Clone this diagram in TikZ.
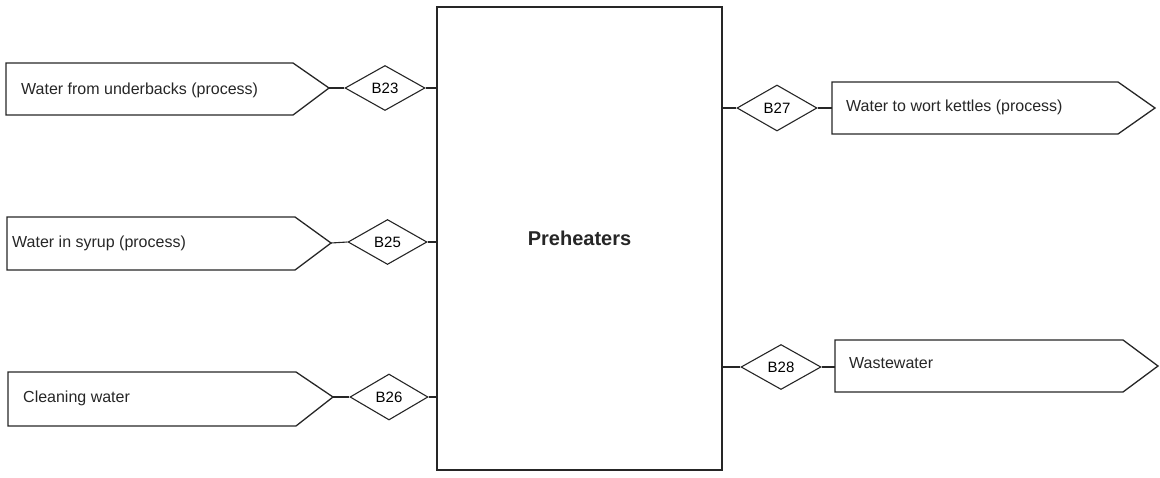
\documentclass[tikz,border=0pt]{standalone}
\usepackage{fontspec}
\setmainfont{Liberation Sans}
\usetikzlibrary{shapes.geometric}
\begin{document}
\begin{tikzpicture}[x=1pt,y=-1pt,
  outline/.style={draw=black!85,line width=1.3pt,line join=miter},
  conn/.style={draw=black!85,line width=1.1pt},
  diam/.style={shape=diamond,draw=black!85,line width=1.1pt,inner sep=0pt,
    minimum width=80pt,minimum height=45pt,font=\fontsize{15}{17}\selectfont},
  lbl/.style={anchor=base west,inner sep=0pt,font=\fontsize{16}{18}\selectfont,text=black!85},
  mainbox/.style={draw=black!85,line width=1.3pt,minimum width=285pt,minimum height=463pt,
    inner sep=0pt,font=\bfseries\fontsize{20}{22}\selectfont,text=black!85}]
\useasboundingbox (0,0) rectangle (1160,477);
% main block
\node[mainbox] (pre) at (579.5,238.5) {\raisebox{-5pt}{Preheaters}};
% left streams
\draw[outline] (6,63) -- (293,63) -- (329,88) coordinate (t1) -- (293,115) -- (6,115) -- cycle;
\draw[outline] (7,217) -- (295,217) -- (331,243) coordinate (t2) -- (295,270) -- (7,270) -- cycle;
\draw[outline] (8,372) -- (296,372) -- (333,397) coordinate (t3) -- (296,426) -- (8,426) -- cycle;
% right streams
\draw[outline] (832,82) coordinate (s4) -- (1118,82) -- (1155,108) -- (1118,134) -- (832,134) -- cycle;
\draw[outline] (835,340) coordinate (s5) -- (1123,340) -- (1158,366) -- (1123,392) -- (835,392) -- cycle;
\coordinate (e4) at (832,108);
\coordinate (e5) at (835,367);
% labels
\node[lbl] (l1) at (21,94) {Water from underbacks (process)};
\node[lbl] (l2) at (12,247) {Water in syrup (process)};
\node[lbl] (l3) at (23,402) {Cleaning water};
\node[lbl] (l4) at (846,111) {Water to wort kettles (process)};
\node[lbl] (l5) at (849,368) {Wastewater};
% diamonds
\node[diam] (b23) at (385,88) {B23};
\node[diam,minimum width=79pt] (b25) at (387.5,242) {B25};
\node[diam,minimum width=78pt,minimum height=46pt] (b26) at (389,397) {B26};
\node[diam,minimum height=46pt] (b27) at (777,108) {B27};
\node[diam] (b28) at (781,367) {B28};
% connectors
\draw[conn] (t1) -- (b23.west);
\draw[conn] (b23.east) -- (b23.east -| pre.west);
\draw[conn] (t2) -- (b25.west);
\draw[conn] (b25.east) -- (b25.east -| pre.west);
\draw[conn] (t3) -- (b26.west);
\draw[conn] (b26.east) -- (b26.east -| pre.west);
\draw[conn] (b27.west -| pre.east) -- (b27.west);
\draw[conn] (b27.east) -- (e4);
\draw[conn] (b28.west -| pre.east) -- (b28.west);
\draw[conn] (b28.east) -- (e5);
\end{tikzpicture}
\end{document}
